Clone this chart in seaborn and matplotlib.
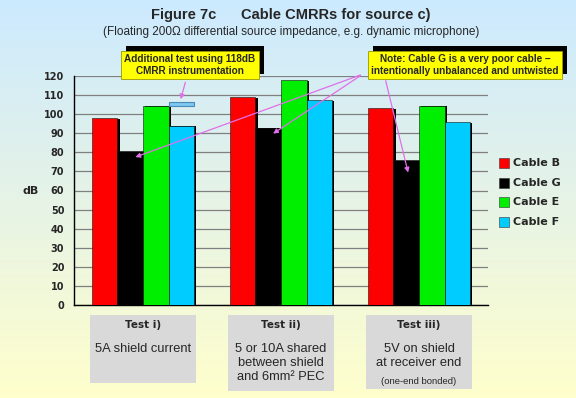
import numpy as np
import pandas as pd
import matplotlib
matplotlib.use("Agg")
import matplotlib.pyplot as plt
import matplotlib.patheffects as pe
from matplotlib.patches import Rectangle
from matplotlib.colors import LinearSegmentedColormap
import matplotlib.transforms as mtransforms
import seaborn as sns

# Data
tests = ["Test i)", "Test ii)", "Test iii)"]
test_notes = ["5A shield current",
              "5 or 10A shared\nbetween shield\nand 6mm\u00b2 PEC",
              "5V on shield\nat receiver end"]
cables = ["Cable B", "Cable G", "Cable E", "Cable F"]
cable_b = [98, 109, 103]
cable_g = [80.5, 93, 76]
cable_e = [104.5, 118, 104.5]
cable_f = [94, 107.5, 96]
extra_test_f = 105.2  # additional test with 118dB CMRR instrumentation (test i, cable F)
colors = ["#ff0000", "#000000", "#00ee00", "#00ccff"]

df = pd.DataFrame({
    "Test": tests * 4,
    "Cable": [c for c in cables for _ in tests],
    "dB": cable_b + cable_g + cable_e + cable_f,
})

sns.set_style("white")
plt.rcParams["font.family"] = ["Liberation Sans", "DejaVu Sans"]
wide = ["DejaVu Sans"]

fig = plt.figure(figsize=(5.76, 3.98), dpi=100)

# background gradient
bg = fig.add_axes([0, 0, 1, 1], zorder=-10)
grad = LinearSegmentedColormap.from_list("bg", ["#cceaff", "#e6f3e6", "#ffffcc"])
bg.imshow(np.linspace(0, 1, 256).reshape(-1, 1), aspect="auto", cmap=grad,
          extent=[0, 1, 0, 1])
bg.axis("off")

ax = fig.add_axes([74 / 576, 1 - 305 / 398, 414 / 576, 229 / 398])
ax.patch.set_alpha(0)
sns.barplot(data=df, x="Test", y="dB", hue="Cable", order=tests,
            hue_order=cables, palette=colors, width=0.74, gap=0,
            saturation=1, ax=ax, legend=False, zorder=3)

for bar in ax.patches:
    bar.set_edgecolor("#111111")
    bar.set_linewidth(0.4)
    bar.set_path_effects([pe.SimplePatchShadow(offset=(1.6, -0.6),
                                               shadow_rgbFace="black", alpha=1),
                          pe.Normal()])

ax.set_ylim(0, 120)
ax.set_xlim(-0.5, 2.5)
ax.set_yticks(range(0, 121, 10))
ax.set_yticklabels([str(v) for v in range(0, 121, 10)], fontsize=7,
                   fontweight="bold", family=wide)
ax.set_xticks([-0.5, 0.5, 1.5, 2.5])
ax.set_xticklabels([])
ax.tick_params(axis="both", direction="out", length=4, width=1, color="black", pad=3)
ax.yaxis.grid(True, color="#808080", linewidth=0.9, zorder=0)
ax.set_axisbelow(True)
for s in ["top", "right"]:
    ax.spines[s].set_visible(False)
for s in ["left", "bottom"]:
    ax.spines[s].set_color("black")
    ax.spines[s].set_linewidth(1)
ax.set_xlabel("")
ax.set_ylabel("dB", fontsize=8, fontweight="bold", rotation=0, labelpad=10,
              va="center", family=wide)

# additional test marker above cable F bar in test i)
fbar = ax.patches[3 * 3]
ax.add_patch(Rectangle((fbar.get_x(), extra_test_f - 1), fbar.get_width(), 2,
                       facecolor="#7cc8f0", edgecolor="#4a8ab8", linewidth=0.8,
                       zorder=4, clip_on=False))

# annotations
arrow_c = "#e070e8"
arrow_kw = dict(arrowstyle="-|>", color=arrow_c, lw=0.9, mutation_scale=7)
box_kw = dict(boxstyle="square,pad=0.35", facecolor="#ffff00", edgecolor="#999900", lw=0.6)
box_shadow = [pe.SimplePatchShadow(offset=(3.5, 3.5), shadow_rgbFace="black", alpha=1),
              pe.Normal()]

t1 = ax.annotate("Additional test using 118dB\nCMRR instrumentation",
                 xy=(fbar.get_x() + fbar.get_width() * 0.45, extra_test_f + 1.2),
                 xytext=(190 / 576, 1 - 65 / 398), textcoords="figure fraction",
                 ha="center", va="center", fontsize=7.2, fontweight="bold",
                 linespacing=1.2, bbox=box_kw, arrowprops=arrow_kw, zorder=6)
t1.get_bbox_patch().set_path_effects(box_shadow)

gbars = [ax.patches[3 + i] for i in range(3)]
arrow_drop = [3.5, 4, 8]
targets = [(g.get_x() + g.get_width() * 0.6, g.get_height() - d)
           for g, d in zip(gbars, arrow_drop)]
t2 = ax.annotate("Note: Cable G is a very poor cable \u2013\nintentionally unbalanced and untwisted",
                 xy=targets[0], xytext=(465 / 576, 1 - 65 / 398), textcoords="figure fraction",
                 ha="center", va="center", fontsize=7.2, fontweight="bold",
                 linespacing=1.2, bbox=box_kw, zorder=6)
t2.get_bbox_patch().set_path_effects(box_shadow)
starts = [(363 / 576, 1 - 74 / 398), (363 / 576, 1 - 74 / 398), (385 / 576, 1 - 78 / 398)]
for (tx, ty), (sx, sy) in zip(targets, starts):
    ax.annotate("", xy=(tx, ty), xytext=(sx, sy), textcoords="figure fraction",
                arrowprops=arrow_kw, zorder=5)

# legend
for i, (c, col) in enumerate(zip(cables, colors)):
    y = 1 - (163 + 19.7 * i) / 398
    fig.patches.append(Rectangle((499 / 576, y - 5 / 398), 10 / 576, 10 / 398,
                                 transform=fig.transFigure, facecolor=col,
                                 edgecolor="#333333", lw=0.4))
    fig.text(513 / 576, y, c, fontsize=8, fontweight="bold", va="center",
             ha="left", family=wide)

# category boxes under the axis
trans = mtransforms.blended_transform_factory(ax.transData, fig.transFigure)
box_heights = [68, 76, 74]
for i, (t, note) in enumerate(zip(tests, test_notes)):
    h = box_heights[i] / 398
    ax.add_patch(Rectangle((i - 0.385, 1 - 315 / 398 - h), 0.77, h, transform=trans,
                           facecolor="#d9d9d9", edgecolor="none", clip_on=False))
    ax.text(i, 1 - 325 / 398, t, transform=trans, ha="center", va="center",
            fontsize=7.5, fontweight="bold", family=wide)
    ax.text(i, 1 - 343 / 398, note, transform=trans, ha="center", va="top",
            fontsize=9.3, linespacing=1.22)
ax.text(2, 1 - 381 / 398, "(one-end bonded)", transform=trans, ha="center",
        va="center", fontsize=6.8)

fig.text(0.505, 1 - 15 / 398, "Figure 7c      Cable CMRRs for source c)",
         ha="center", va="center", fontsize=10.5, fontweight="bold")
fig.text(0.505, 1 - 32 / 398,
         "(Floating 200\u03a9 differential source impedance, e.g. dynamic microphone)",
         ha="center", va="center", fontsize=8.5)

plt.savefig("out.png", dpi=100)
